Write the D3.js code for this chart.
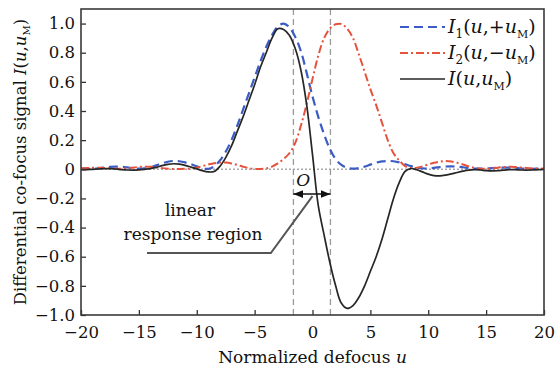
<!DOCTYPE html>
<html>
<head>
<meta charset="utf-8">
<script src="https://cdn.jsdelivr.net/npm/d3@7/dist/d3.min.js"></script>
<style>
  body { margin: 0; background: #fff; }
  text { font-family: "DejaVu Serif", serif; fill: #111; }
</style>
</head>
<body>
<div id="chart"></div>
<script>
// normalized defocus samples
const uValues = [-20,-19.5,-19,-18.5,-18,-17.5,-17,-16.5,-16,-15.5,-15,-14.5,-14,-13.5,-13,-12.5,-12,-11.5,-11,-10.5,
  -10,-9.5,-9,-8.5,-8,-7.5,-7,-6.5,-6,-5.5,-5,-4.5,-4,-3.5,-3,-2.5,-2,-1.5,-1,-0.5,
  0,0.5,1,1.5,2,2.5,3,3.5,4,4.5,5,5.5,6,6.5,7,7.5,8,8.5,9,9.5,
  10,10.5,11,11.5,12,12.5,13,13.5,14,14.5,15,15.5,16,16.5,17,17.5,18,18.5,19,19.5,20];

// I1(u,+uM)
const i1Values = [0.007,0.004,0.004,0.007,0.012,0.016,0.018,0.017,0.013,0.008,0.004,0.006,0.014,0.027,0.04,0.052,0.057,0.055,0.047,0.035,
  0.02,0.006,0.003,0.02,0.06,0.12,0.2,0.3,0.41,0.52,0.63,0.74,0.84,0.92,0.98,1.0,0.975,0.91,0.81,0.66,
  0.5,0.36,0.24,0.14,0.07,0.03,0.01,0.004,0.008,0.018,0.032,0.045,0.054,0.057,0.055,0.047,0.035,0.022,0.012,0.006,
  0.006,0.01,0.015,0.019,0.02,0.018,0.014,0.009,0.005,0.004,0.005,0.008,0.01,0.011,0.011,0.009,0.006,0.004,0.003,0.004,0.006];

// I2(u,-uM)
const i2Values = [0.006,0.008,0.01,0.01,0.008,0.005,0.003,0.004,0.007,0.012,0.016,0.018,0.017,0.013,0.008,0.004,0.002,0.002,0.003,0.005,
  0.012,0.022,0.033,0.042,0.046,0.046,0.04,0.03,0.018,0.008,0.003,0.002,0.006,0.018,0.04,0.07,0.11,0.18,0.3,0.45,
  0.62,0.78,0.9,0.965,0.995,0.997,0.965,0.9,0.79,0.67,0.55,0.44,0.32,0.2,0.11,0.06,0.022,0.008,0.01,0.02,
  0.033,0.045,0.053,0.057,0.054,0.045,0.033,0.02,0.01,0.004,0.003,0.006,0.011,0.015,0.017,0.016,0.013,0.009,0.006,0.004,0.005];

// I(u,uM)
const iValues = [-0.002,-0.002,0,0.002,0.004,0.004,0.002,-0.002,-0.005,-0.006,-0.004,0,0.005,0.013,0.025,0.034,0.038,0.035,0.027,0.015,
  0.003,-0.01,-0.018,-0.015,0.02,0.08,0.16,0.26,0.36,0.47,0.58,0.7,0.8,0.9,0.965,0.96,0.92,0.83,0.68,0.44,
  0.1,-0.25,-0.45,-0.64,-0.8,-0.92,-0.955,-0.935,-0.88,-0.8,-0.7,-0.6,-0.48,-0.34,-0.2,-0.09,-0.015,0.005,-0.003,-0.018,
  -0.033,-0.043,-0.045,-0.04,-0.032,-0.022,-0.013,-0.006,-0.003,-0.005,-0.009,-0.011,-0.01,-0.006,-0.003,-0.003,-0.005,-0.006,-0.005,-0.003,-0.001];

const xTicks = [-20, -15, -10, -5, 0, 5, 10, 15, 20];
const xTickLabels = ["\u221220", "\u221215", "\u221210", "\u22125", "0", "5", "10", "15", "20"];
const yTicks = [1, 0.8, 0.6, 0.4, 0.2, 0, -0.2, -0.4, -0.6, -0.8, -1];
const yTickLabels = ["1.0", "0.8", "0.6", "0.4", "0.2", "0", "\u22120.2", "\u22120.4", "\u22120.6", "\u22120.8", "\u22121.0"];
const linearBounds = [-1.65, 1.55];

const width = 557, height = 373;
const margin = { top: 9, right: 13, bottom: 58, left: 81 };

const svg = d3.select('#chart').append('svg')
  .attr('width', width)
  .attr('height', height);

const x = d3.scaleLinear().domain([-20, 20]).range([margin.left, width - margin.right]);
const y = d3.scaleLinear().domain([-1, 1.1]).range([height - margin.bottom, margin.top]);

svg.append('clipPath').attr('id', 'plot-clip')
  .append('rect')
  .attr('x', margin.left).attr('y', margin.top)
  .attr('width', x(20) - x(-20)).attr('height', y(-1) - y(1.1));

// zero line
svg.append('line')
  .attr('x1', x(-20)).attr('x2', x(20))
  .attr('y1', y(0)).attr('y2', y(0))
  .attr('stroke', '#a8a8a8').attr('stroke-width', 1.6)
  .attr('stroke-dasharray', '2,2');

// linear region bounds
svg.selectAll('.bound')
  .data(linearBounds)
  .enter().append('line')
  .attr('class', 'bound')
  .attr('x1', d => x(d)).attr('x2', d => x(d))
  .attr('y1', y(1.1)).attr('y2', y(-1))
  .attr('stroke', '#9a9a9a').attr('stroke-width', 1.3)
  .attr('stroke-dasharray', '6,4');

const series = [
  { name: 'i1', values: i1Values, color: '#3b5cc4', dash: '9,5', w: 2.2 },
  { name: 'i2', values: i2Values, color: '#e5533d', dash: '8,3,2,3', w: 2 },
  { name: 'i', values: iValues, color: '#262626', dash: null, w: 1.7 }
];

const line = d3.line()
  .x((d, i) => x(uValues[i]))
  .y(d => y(d))
  .curve(d3.curveCatmullRom);

const curves = svg.append('g').attr('clip-path', 'url(#plot-clip)');
series.forEach(s => {
  curves.append('path')
    .datum(s.values)
    .attr('fill', 'none')
    .attr('stroke', s.color)
    .attr('stroke-width', s.w)
    .attr('stroke-dasharray', s.dash)
    .attr('d', line);
});

// axes with inward ticks
const xAxis = svg.append('g')
  .attr('transform', `translate(0,${y(-1)})`)
  .call(d3.axisBottom(x).tickValues(xTicks).tickSize(-5).tickPadding(11)
    .tickFormat((d, i) => xTickLabels[i]));
const yAxis = svg.append('g')
  .attr('transform', `translate(${x(-20)},0)`)
  .call(d3.axisLeft(y).tickValues(yTicks).tickSize(-5).tickPadding(6)
    .tickFormat((d, i) => yTickLabels[i]));
[xAxis, yAxis].forEach(a => {
  a.select('.domain').remove();
  a.selectAll('line').attr('stroke', '#333').attr('stroke-width', 1.3);
  a.selectAll('text').style('font-size', '16.5px').style('font-family', '"DejaVu Serif", serif').attr('fill', '#111');
});

// frame
svg.append('rect')
  .attr('x', x(-20)).attr('y', y(1.1))
  .attr('width', x(20) - x(-20)).attr('height', y(-1) - y(1.1))
  .attr('fill', 'none').attr('stroke', '#3a3a3a').attr('stroke-width', 1.6);

// axis titles
svg.append('text')
  .attr('x', (x(-20) + x(20)) / 2).attr('y', 363)
  .attr('text-anchor', 'middle')
  .style('font-size', '17px')
  .text('Normalized defocus ')
  .append('tspan').style('font-style', 'italic').text('u');

const yTitle = svg.append('text')
  .attr('transform', `translate(26,${(y(1.1) + y(-1)) / 2}) rotate(-90)`)
  .attr('text-anchor', 'middle')
  .style('font-size', '16.5px');
yTitle.append('tspan').text('Differential co-focus signal ');
yTitle.append('tspan').style('font-style', 'italic').text('I');
yTitle.append('tspan').text('(');
yTitle.append('tspan').style('font-style', 'italic').text('u');
yTitle.append('tspan').text(',');
yTitle.append('tspan').style('font-style', 'italic').text('u');
yTitle.append('tspan').attr('dy', 4).style('font-size', '10px').text('M');
yTitle.append('tspan').attr('dy', -4).text(')');

// legend
const legendItems = [
  { s: series[0], sub: '1', sign: ',+' },
  { s: series[1], sub: '2', sign: ',\u2212' },
  { s: series[2], sub: '', sign: ',' }
];
const legend = svg.append('g');
legendItems.forEach((d, i) => {
  const ly = 27 + i * 26;
  legend.append('line')
    .attr('x1', 400).attr('x2', 445)
    .attr('y1', ly).attr('y2', ly)
    .attr('stroke', d.s.color).attr('stroke-width', d.s.w)
    .attr('stroke-dasharray', d.s.dash);
  const t = legend.append('text')
    .attr('x', 448).attr('y', ly + 6)
    .style('font-size', '19px');
  t.append('tspan').style('font-style', 'italic').text('I');
  if (d.sub) {
    t.append('tspan').attr('dy', 5).style('font-size', '12px').text(d.sub);
    t.append('tspan').attr('dy', -5).text('(');
  } else {
    t.append('tspan').text('(');
  }
  t.append('tspan').style('font-style', 'italic').text('u');
  t.append('tspan').text(d.sign);
  t.append('tspan').style('font-style', 'italic').text('u');
  t.append('tspan').attr('dy', 5).style('font-size', '11px').text('M');
  t.append('tspan').attr('dy', -5).text(')');
});

// annotation: linear response region
const arrowY = -0.17;
svg.append('defs').append('marker')
  .attr('id', 'arrowhead')
  .attr('viewBox', '0 0 10 10')
  .attr('refX', 10).attr('refY', 5)
  .attr('markerWidth', 7).attr('markerHeight', 7)
  .attr('orient', 'auto-start-reverse')
  .append('path').attr('d', 'M0,1 L10,5 L0,9 Z').attr('fill', '#111');

svg.append('line')
  .attr('x1', x(linearBounds[0])).attr('x2', x(linearBounds[1]))
  .attr('y1', y(arrowY)).attr('y2', y(arrowY))
  .attr('stroke', '#111').attr('stroke-width', 1.4)
  .attr('marker-start', 'url(#arrowhead)')
  .attr('marker-end', 'url(#arrowhead)');

svg.append('text')
  .attr('x', x(-0.8)).attr('y', 186)
  .attr('text-anchor', 'middle')
  .style('font-size', '17px').style('font-style', 'italic')
  .text('O');

svg.append('path')
  .attr('d', d3.line()([[x(-14.3), 253], [x(-3.6), 253], [x(0), y(arrowY) + 2]]))
  .attr('fill', 'none').attr('stroke', '#555').attr('stroke-width', 2);

svg.append('text')
  .attr('x', 190).attr('y', 216)
  .attr('text-anchor', 'middle')
  .style('font-size', '17px')
  .text('linear');
svg.append('text')
  .attr('x', 193).attr('y', 240)
  .attr('text-anchor', 'middle')
  .style('font-size', '17px')
  .text('response region');
</script>
</body>
</html>
